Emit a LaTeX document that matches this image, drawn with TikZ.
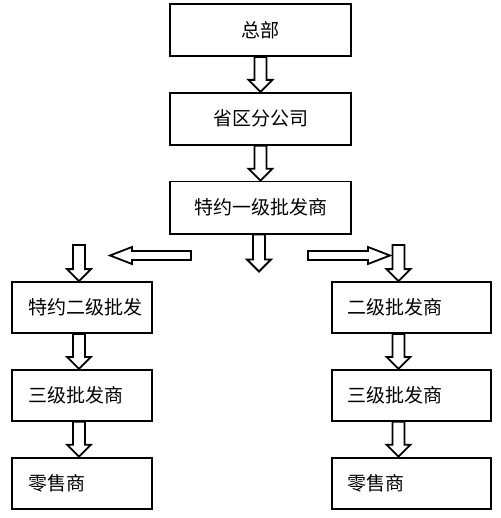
\documentclass[tikz,border=0pt]{standalone}
\usepackage{fontspec}
\newfontfamily\cjk{Noto Sans CJK SC}
\usetikzlibrary{positioning, calc}

\tikzset{
    shaft half/.store in=\shafthw, shaft half=6pt,
    head half/.store in=\headhw, head half=12pt,
    head len/.store in=\headlen, head len=12pt
}

\begin{document}
\begin{tikzpicture}[
    node distance=35pt,
    box/.style={rectangle, draw, line width=1.8pt, minimum height=51pt, inner sep=0pt, align=center, font=\cjk\fontsize{19}{22}\selectfont},
    topbox/.style={box, minimum width=181pt, minimum height=52pt},
    leftbox/.style={box, text width=108pt, inner xsep=16pt, align=left},
    rightbox/.style={box, text width=127pt, inner xsep=16pt, align=left},
    fat/.style={draw, line width=1.8pt, fill=white, line join=miter, to path={
        let \p1=(\tikztostart), \p2=(\tikztotarget),
            \n1={atan2(\y2-\y1,\x2-\x1)}, \n2={veclen(\x2-\x1,\y2-\y1)} in
        ($(\p1)+(\n1+90:\shafthw)$)
        -- ($(\p1)+(\n1:\n2*1pt-\headlen)+(\n1+90:\shafthw)$)
        -- ($(\p1)+(\n1:\n2*1pt-\headlen)+(\n1+90:\headhw)$)
        -- (\p2)
        -- ($(\p1)+(\n1:\n2*1pt-\headlen)+(\n1-90:\headhw)$)
        -- ($(\p1)+(\n1:\n2*1pt-\headlen)+(\n1-90:\shafthw)$)
        -- ($(\p1)+(\n1-90:\shafthw)$) -- cycle}},
    vfat/.style={fat, shaft half=6pt, head half=12pt, head len=12pt},
    hfat/.style={fat, shaft half=4.5pt, head half=8.5pt, head len=22pt}
]
\useasboundingbox (0,0) rectangle (500pt,-518pt);

% Upper chain
\node[topbox] (zongbu) at (260.5pt,-30pt) {总部};
\node[topbox, below=of zongbu] (shengqu) {省区分公司};
\node[topbox, below=of shengqu] (yiji) {特约一级批发商};

% Left branch
\node[leftbox] (tyerji) at (82pt,-307.5pt) {特约二级批发};
\node[leftbox, below=of tyerji] (sanjiL) {三级批发商};
\node[leftbox, below=of sanjiL] (lingL) {零售商};

% Right branch
\node[rightbox, right=178pt of tyerji] (erji) {二级批发商};
\node[rightbox, below=of erji] (sanjiR) {三级批发商};
\node[rightbox, below=of sanjiR] (lingR) {零售商};

% Free ends
\coordinate (ydown) at ($(yiji.south)+(-1.5pt,-37pt)$);
\coordinate (ltail) at (191pt,-255.5pt);
\coordinate (ltip) at (110pt,-255.5pt);
\coordinate (rtail) at (308pt,-255.5pt);
\coordinate (rtip) at (390pt,-255.5pt);
\coordinate (lcol) at (79pt,-245pt);
\coordinate (rcol) at (398.5pt,-245pt);

% Arrows
\draw[vfat] (zongbu.south) to (shengqu.north);
\draw[vfat] (shengqu.south) to (yiji.north);
\draw[vfat] (ydown |- yiji.south) to (ydown);
\draw[hfat] (ltail) to (ltip);
\draw[hfat] (rtail) to (rtip);
\draw[vfat] (lcol) to (lcol |- tyerji.north);
\draw[vfat] (lcol |- tyerji.south) to (lcol |- sanjiL.north);
\draw[vfat] (lcol |- sanjiL.south) to (lcol |- lingL.north);
\draw[vfat] (rcol) to (rcol |- erji.north);
\draw[vfat] (rcol |- erji.south) to (rcol |- sanjiR.north);
\draw[vfat] (rcol |- sanjiR.south) to (rcol |- lingR.north);

\end{tikzpicture}
\end{document}
